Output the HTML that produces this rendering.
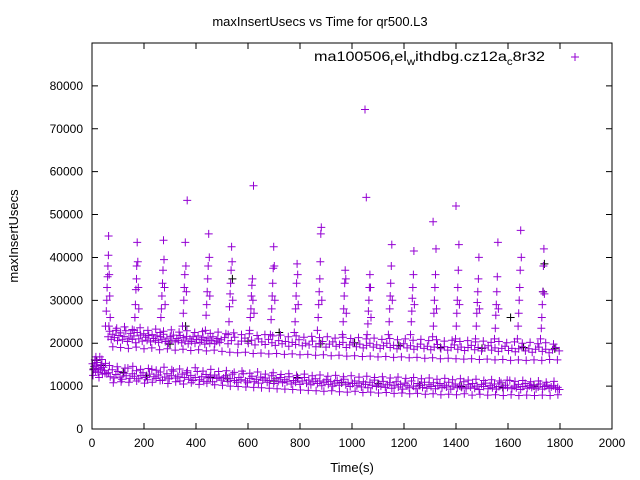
<!DOCTYPE html>
<html><head><meta charset="utf-8"><style>
body{margin:0;background:#fff}
svg{display:block;font-family:"Liberation Sans",sans-serif}
</style></head><body>
<svg id="chart" width="640" height="480" viewBox="0 0 640 480">
<rect width="640" height="480" fill="#fff"/>
<text x="320" y="26" text-anchor="middle" font-size="13">maxInsertUsecs vs Time for qr500.L3</text>
<text transform="translate(18,236) rotate(-90)" text-anchor="middle" font-size="13">maxInsertUsecs</text>
<text x="352" y="472" text-anchor="middle" font-size="13">Time(s)</text>
<g id="axes"></g>
<g id="marks"></g>
<g>
<text x="314" y="61" font-size="14" textLength="231" lengthAdjust="spacingAndGlyphs">ma100506<tspan dy="4" font-size="10">r</tspan><tspan dy="-4">el</tspan><tspan dy="4" font-size="10">w</tspan><tspan dy="-4">ithdbg.cz12a</tspan><tspan dy="4" font-size="10">c</tspan><tspan dy="-4">8r32</tspan></text>
<path d="M571 57h8M575 53v8" stroke="#9400d3" stroke-width="1"/>
</g>
<rect x="92" y="43" width="520" height="386" fill="none" stroke="#000" stroke-width="1"/>
</svg>
<script>
const xTicks=[0,200,400,600,800,1000,1200,1400,1600,1800,2000];
const yTicks=[0,10000,20000,30000,40000,50000,60000,70000,80000];
const lowT=[2,5,8,11,14,17,20,23,26,30,33,36,40,44,48,52,57,63,70,78,85,92,100,108,115,123,131,138,146,155,163,171,180,188,196,205,213,221,230,238,246,255,263,271,280,288,297,305,313,322,330,338,347,355,364,372,380,389,397,405,414,422,430,439,447,455,464,472,480,489,497,506,514,523,531,540,548,556,565,573,582,590,598,607,615,624,632,640,649,657,666,674,682,691,699,708,716,724,733,741,750,758,766,775,783,792,800,808,817,825,834,842,850,859,867,876,884,892,901,909,918,926,934,943,951,960,968,976,985,993,1002,1010,1019,1027,1036,1044,1052,1061,1069,1078,1086,1094,1103,1111,1120,1128,1136,1145,1153,1162,1170,1178,1187,1195,1204,1212,1220,1229,1237,1246,1254,1262,1271,1279,1288,1296,1304,1313,1321,1330,1338,1346,1355,1363,1372,1380,1388,1397,1405,1414,1422,1430,1439,1447,1456,1464,1472,1481,1489,1498,1506,1514,1523,1531,1540,1548,1556,1565,1573,1582,1590,1598,1607,1615,1624,1632,1640,1649,1657,1666,1674,1682,1691,1699,1708,1716,1724,1733,1741,1750,1758,1766,1775,1783,1791,1798];
const lowV=[15.2,13.8,14.6,16.1,13.5,14.9,15.5,13.2,14.2,16.8,13.9,15.0,12.8,14.4,13.6,15.3,12.9,13.1,12.2,13.8,11.9,12.7,13.4,12.1,11.6,13.0,12.4,14.2,11.8,12.9,12.3,13.6,11.7,12.5,13.1,12.0,11.5,12.8,13.9,12.2,11.8,12.6,13.3,11.4,12.1,12.9,11.7,12.4,13.5,11.9,12.3,11.2,12.8,12.0,13.1,11.6,12.5,11.3,12.0,13.4,11.5,12.2,11.1,12.7,11.9,12.3,11.0,12.6,11.8,12.1,11.4,11.9,12.4,11.1,11.7,12.8,11.3,10.9,12.0,11.5,12.9,11.2,10.8,11.8,12.3,11.0,11.6,10.7,12.1,11.4,11.9,10.9,11.3,12.4,10.6,11.7,11.1,12.0,10.8,11.5,11.0,12.2,10.5,11.3,10.9,11.8,10.4,11.2,12.0,10.7,11.4,10.3,11.0,11.7,10.6,11.2,10.1,10.9,11.5,10.4,11.1,10.0,10.7,11.3,10.2,10.9,11.6,10.3,10.8,9.9,10.6,11.2,10.1,10.7,9.8,11.0,10.4,9.6,10.9,10.2,11.4,9.9,10.5,10.0,11.1,9.7,10.3,10.8,9.5,10.2,11.0,9.8,10.4,9.3,10.7,10.1,9.6,11.2,10.0,9.4,10.6,10.2,9.7,10.9,9.5,10.3,9.9,10.8,9.4,10.1,10.6,9.6,10.2,9.8,10.9,9.3,10.0,10.5,9.6,10.1,9.7,11.0,9.4,10.3,9.8,10.6,9.5,10.0,9.2,10.4,9.9,10.7,9.4,10.1,9.6,10.5,9.3,9.9,10.8,9.5,10.2,9.7,11.3,9.4,10.0,9.6,10.4,9.2,9.9,10.6,9.5,10.1,9.7,10.3,9.4,9.8,10.5,9.3,9.9,10.2,9.5,9.8,10.1,9.4,9.7,9.2];
const lowT2=[4,15,27,38,50,67,82,97,112,127,142,157,172,187,202,217,232,247,262,277,292,307,322,337,352,367,382,397,412,427,442,457,472,487,502,517,532,547,562,577,592,607,622,637,652,667,682,697,712,727,742,757,772,787,802,817,832,847,862,877,892,907,922,937,952,967,982,997,1012,1027,1042,1057,1072,1087,1102,1117,1132,1147,1162,1177,1192,1207,1222,1237,1252,1267,1282,1297,1312,1327,1342,1357,1372,1387,1402,1417,1432,1447,1462,1477,1492,1507,1522,1537,1552,1567,1582,1597,1612,1627,1642,1657,1672,1687,1702,1717,1732,1747,1762,1777,1792];
const lowV2=[12.5,16.8,12.0,16.2,13.0,14.8,10.8,14.5,11.0,14.2,10.9,14.6,11.2,13.9,10.7,14.1,10.9,13.7,11.3,14.4,10.6,13.8,11.0,14.0,10.5,13.6,10.8,14.3,10.4,13.5,10.7,13.9,10.3,13.4,10.2,13.6,10.0,13.2,9.9,13.5,9.8,13.0,9.7,13.3,9.6,12.8,9.5,13.1,9.4,12.7,9.3,12.9,9.2,12.5,9.1,12.8,9.0,12.4,8.9,12.6,8.8,12.3,8.9,12.5,8.7,12.2,8.6,12.4,8.8,12.1,8.5,12.3,8.6,12.0,8.4,12.2,8.5,11.9,8.3,12.1,8.4,11.8,8.2,12.0,8.3,11.7,8.1,11.9,8.2,11.6,8.0,11.8,8.1,11.5,8.0,11.7,8.2,11.4,7.9,11.6,8.1,11.3,7.9,11.5,8.0,11.2,7.8,11.4,8.0,11.1,7.8,11.3,7.9,11.0,7.8,11.2,7.9,10.9,7.8,11.1,8.0];
const upT=[62,68,74,80,86,92,98,104,110,117,123,130,136,142,149,155,161,168,174,180,187,193,199,206,212,218,225,231,237,244,250,256,263,269,275,282,288,294,301,307,313,320,326,332,339,345,351,358,364,370,377,383,389,396,402,408,415,421,427,434,440,446,453,459,465,472,478,484,491,497,510,523,536,549,562,575,588,601,614,627,640,653,666,679,692,705,718,731,744,757,770,783,796,809,822,835,848,861,874,887,900,913,926,939,952,965,978,991,1004,1017,1030,1043,1056,1069,1082,1095,1108,1121,1134,1147,1160,1173,1186,1199,1212,1225,1238,1251,1264,1277,1290,1303,1316,1329,1342,1355,1368,1381,1394,1407,1420,1433,1446,1459,1472,1485,1498,1511,1524,1537,1550,1563,1576,1589,1602,1615,1628,1641,1654,1667,1680,1693,1706,1719,1732,1745,1758,1771,1784,1797];
const upV=[21.5,22.8,20.9,22.1,21.3,23.0,20.6,21.8,22.4,20.8,21.6,22.9,20.4,21.2,22.3,20.9,21.7,20.1,22.5,21.0,21.9,20.5,22.2,21.4,20.7,21.8,20.3,22.0,21.1,20.6,21.7,20.2,21.5,20.8,22.1,20.4,21.2,20.0,21.6,20.7,21.9,20.3,21.1,20.6,21.8,20.1,21.3,20.5,21.6,19.9,21.0,20.4,21.5,20.0,20.9,21.7,20.2,20.8,21.4,19.8,20.6,21.2,20.0,20.7,21.5,19.9,20.5,21.1,20.2,20.8,21.3,19.9,20.6,21.4,19.8,20.5,21.2,20.0,20.7,19.6,21.0,20.3,19.7,20.9,20.1,19.5,20.6,19.9,20.4,19.3,20.2,19.7,20.8,19.4,20.0,19.6,20.5,19.2,19.9,20.4,19.1,19.8,20.3,19.3,19.7,20.2,19.0,19.6,20.1,19.2,19.8,18.9,19.5,20.0,19.1,19.6,18.8,19.4,20.0,19.0,19.5,18.7,19.3,19.9,18.9,19.4,18.6,19.2,19.8,18.8,19.3,18.5,19.1,19.7,18.7,19.2,18.4,19.0,19.6,18.6,19.1,18.3,19.0,19.5,18.5,19.0,18.2,18.9,19.4,18.4,18.9,18.1,18.8,19.3,18.3,18.8,18.0,18.7,19.2,18.2,18.7,17.9,18.6,19.1,18.1,18.6,17.8,18.5,19.0,18.2];
const upT2=[65,80,95,110,125,140,155,170,185,200,215,230,245,260,275,290,305,320,335,350,365,380,395,410,425,440,455,470,485,500,515,530,545,560,575,590,605,620,635,650,665,680,695,710,725,740,755,770,785,800,815,830,845,860,875,890,905,920,935,950,965,980,995,1010,1025,1040,1055,1070,1085,1100,1115,1130,1145,1160,1175,1190,1205,1220,1235,1250,1265,1280,1295,1310,1325,1340,1355,1370,1385,1400,1415,1430,1445,1460,1475,1490,1505,1520,1535,1550,1565,1580,1595,1610,1625,1640,1655,1670,1685,1700,1715,1730,1745,1760,1775,1790];
const upV2=[24.0,19.2,23.5,19.0,23.8,18.8,23.2,19.1,23.6,18.7,23.0,18.9,23.3,18.5,22.8,18.7,23.1,18.4,22.6,18.6,22.9,18.3,22.5,18.5,22.7,18.2,22.3,18.4,22.6,18.1,22.2,17.9,22.4,17.8,22.0,17.9,22.2,17.6,21.8,17.7,22.0,17.5,21.7,17.6,21.9,17.4,21.5,17.5,21.7,17.3,21.4,17.4,21.6,17.2,21.3,17.3,21.5,17.1,21.2,17.2,21.4,17.0,21.1,17.1,21.3,16.9,21.0,17.0,21.2,16.8,20.9,16.9,21.1,16.7,20.8,16.8,21.0,16.6,20.7,16.7,20.9,16.5,20.6,16.6,20.8,16.4,20.5,16.5,20.7,16.4,20.4,16.3,20.6,16.4,20.3,16.2,20.5,16.3,20.2,16.1,20.4,16.2,20.1,16.0,20.3,16.1,20.0,16.0,20.2,16.1,19.9,16.0,20.1,16.2,19.8,16.1];
const spikeT=[52,55,57,58,60,61,63,64,66,68,70,162,165,167,169,171,172,174,176,178,180,262,265,267,269,271,273,275,277,279,281,348,351,353,355,357,359,361,363,366,436,439,441,443,445,447,449,451,453,524,527,529,531,533,535,537,539,541,606,609,611,613,615,617,619,621,623,686,689,691,693,695,697,699,701,703,778,781,783,785,787,789,791,793,867,870,872,874,876,878,880,882,884,963,966,968,970,972,974,976,978,1058,1061,1063,1065,1067,1069,1071,1073,1050,1055,1140,1143,1145,1147,1149,1151,1153,1155,1225,1228,1230,1232,1234,1236,1238,1240,1310,1313,1315,1317,1319,1321,1323,1325,1312,1398,1401,1403,1405,1407,1409,1411,1413,1400,1475,1478,1480,1482,1484,1486,1488,1490,1548,1551,1553,1555,1557,1559,1561,1563,1636,1639,1641,1643,1645,1647,1649,1651,1725,1728,1730,1732,1734,1736,1738,1740];
const spikeV=[24,27.5,30,33,35.5,38,40.5,45,36,31,26,23,26,29,32.5,35,38,43.5,39,33,28,22.5,26,28,31,34,37,44,39.5,33,29,24,27,30,33,36,43.5,38,32,53.3,23,26.5,29,32,35,38,45.5,40,31,22,25,28.5,31.5,34,37,42.5,39,30,23,26,28,31,33.5,35,30,56.7,27,22,25.5,28,31,34,37.5,42.5,38,30,22.5,25,28,31,34,38.5,36,29,23,26,29,32,35,39,45.5,47,30,22,25,28,31,34,37,35,27,22,24.5,27.5,30,33,36,33,26,74.5,54,22,25,28,31,34,38,43,30,22,25,27.5,30.5,33,36,41.5,29,21.5,24,27,30,33,36,42,28,48.3,21,24,27,30,33,37,43,29,52,21,24,27,29.5,32,35,40,28,21,23.5,26.5,29,32,35.5,43.5,28,21,24,27,30,33,37,46.3,40,21,23.5,26,29,32,38,42,31.5];
const blackT=[6,18,35,120,210,300,360,455,520,540,600,700,720,790,880,960,1010,1100,1180,1260,1340,1420,1500,1580,1610,1660,1700,1735,1740,1780];
const blackV=[14.0,16.0,14.8,13.2,12.4,19.8,24.0,12.0,11.8,35.0,20.5,11.2,22.5,12.0,19.9,10.8,20.1,10.6,19.5,10.2,19.0,9.9,18.8,9.7,26.0,19.0,10.0,32.0,38.5,18.7];

const X0=92,X1=612,Y0=429,Y1=43;
const xs=t=>X0+(t/2000)*(X1-X0);
const ys=v=>Y0-(v/90000)*(Y0-Y1);
const NS='http://www.w3.org/2000/svg';
const axes=document.getElementById('axes');
const marks=document.getElementById('marks');
let d='';
xTicks.forEach(t=>{
  const x=xs(t);
  d+=`M${x} ${Y0}v-6M${x} ${Y1}v6`;
  const tx=document.createElementNS(NS,'text');
  
  
  tx.setAttribute('x',x);tx.setAttribute('y',447);
  tx.setAttribute('text-anchor','middle');tx.setAttribute('font-size','12');
  tx.textContent=t;axes.appendChild(tx);
});
yTicks.forEach(v=>{
  const y=ys(v);
  d+=`M${X0} ${y}h6M${X1} ${y}h-6`;
  const tx=document.createElementNS(NS,'text');
  
  
  tx.setAttribute('x',83);tx.setAttribute('y',y+4);
  tx.setAttribute('text-anchor','end');tx.setAttribute('font-size','12');
  tx.textContent=v;axes.appendChild(tx);
});
const tp=document.createElementNS(NS,'path');


tp.setAttribute('d',d);tp.setAttribute('stroke','#000');tp.setAttribute('fill','none');
axes.appendChild(tp);
function plot(T,V,color,name){
  let p='';
  for(let i=0;i<T.length;i++){
    const x=xs(T[i]),y=ys(V[i]*1000);
    p+=`M${(x-4).toFixed(1)} ${y.toFixed(1)}h8M${x.toFixed(1)} ${(y-4).toFixed(1)}v8`;
  }
  const el=document.createElementNS(NS,'path');
  
  
  el.setAttribute('d',p);el.setAttribute('stroke',color);el.setAttribute('stroke-width','1');el.setAttribute('fill','none');
  marks.appendChild(el);
}
plot(blackT,blackV,'#000','black-points');
plot(lowT,lowV,'#9400d3','lower-band-points');
plot(lowT2,lowV2,'#9400d3','lower-band-spread-points');
plot(upT,upV,'#9400d3','upper-band-points');
plot(upT2,upV2,'#9400d3','upper-band-spread-points');
plot(spikeT,spikeV,'#9400d3','spike-points');
</script>
</body></html>
